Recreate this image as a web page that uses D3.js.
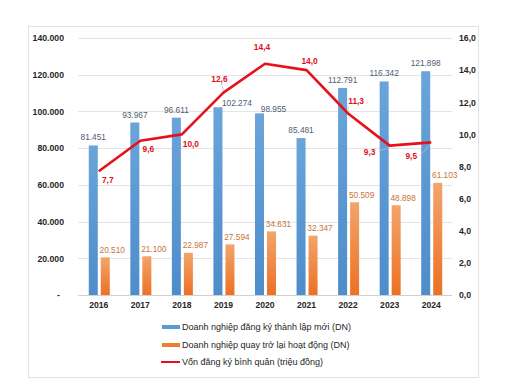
<!DOCTYPE html>
<html><head><meta charset="utf-8">
<script src="https://cdn.jsdelivr.net/npm/d3@7"></script>
<style>html,body{margin:0;padding:0;background:#fff;}svg{display:block;font-family:Arial,"Liberation Sans",sans-serif;}</style>
</head><body><svg id="c" width="506" height="392"></svg>
<script>
const years = ["2016","2017","2018","2019","2020","2021","2022","2023","2024"];
const newFirms = [81451, 93967, 96611, 102274, 98955, 85481, 112791, 116342, 121898];
const returnedFirms = [20510, 21100, 22987, 27594, 34631, 32347, 50509, 48898, 61103];
const avgCapital = [7.7, 9.6, 10.0, 12.6, 14.4, 14.0, 11.3, 9.3, 9.5];
const leftTicks = [0, 20000, 40000, 60000, 80000, 100000, 120000, 140000];
const rightTicks = [0, 2, 4, 6, 8, 10, 12, 14, 16];
const legendLabels = ["Doanh nghiệp đăng ký thành lập mới (DN)", "Doanh nghiệp quay trở lại hoạt động (DN)", "Vốn đăng ký bình quân (triệu đồng)"];

const svg = d3.select("#c");
const fmtInt = v => v === 0 ? "-" : d3.format(",")(v).replace(/,/g, ".");
const fmtDec = v => d3.format(".1f")(v).replace(".", ",");
const FONT = "Arial, 'Liberation Sans', sans-serif";

// frame
svg.append("rect").attr("x", 28.5).attr("y", 26.5).attr("width", 450).attr("height", 351)
  .attr("fill", "#fff").attr("stroke", "#e3e3e3");

const defs = svg.append("defs");
const gb = defs.append("linearGradient").attr("id", "gb").attr("x1", 0).attr("x2", 0).attr("y1", 0).attr("y2", 1);
gb.append("stop").attr("offset", "0%").attr("stop-color", "#6aa4da");
gb.append("stop").attr("offset", "100%").attr("stop-color", "#4d8dcb");
const go = defs.append("linearGradient").attr("id", "go").attr("x1", 0).attr("x2", 0).attr("y1", 0).attr("y2", 1);
go.append("stop").attr("offset", "0%").attr("stop-color", "#f3a46b");
go.append("stop").attr("offset", "100%").attr("stop-color", "#ec7124");

const x = d3.scaleBand().domain(years).range([78, 452]).padding(0);
const x1 = d3.scaleBand().domain(["n", "r"]).range([-10, 11]).paddingInner(0.25);
const yL = d3.scaleLinear().domain([0, 140000]).range([295, 38]);
const yR = d3.scaleLinear().domain([0, 16]).range([295, 38]);
const cx = d => x(d) + x.bandwidth() / 2;

// gridlines
svg.append("g").selectAll("line").data(leftTicks).join("line")
  .attr("x1", 78).attr("x2", 452)
  .attr("y1", d => Math.round(yL(d)) + 0.5).attr("y2", d => Math.round(yL(d)) + 0.5)
  .attr("stroke", d => d === 0 ? "#d0d0d0" : "#e4e4e4").attr("stroke-width", 1);

// left axis
const axL = svg.append("g").attr("transform", "translate(64,0)")
  .call(d3.axisLeft(yL).tickValues(leftTicks).tickFormat(fmtInt).tickSize(0).tickPadding(0));
axL.select(".domain").remove();
axL.selectAll("text").attr("font-size", 8.7).attr("font-weight", "bold").attr("fill", "#262626")
  .attr("font-family", FONT).attr("dx", d => d === 0 ? -4 : 0);

// right axis
const axR = svg.append("g").attr("transform", "translate(459,0)")
  .call(d3.axisRight(yR).tickValues(rightTicks).tickFormat(fmtDec).tickSize(0).tickPadding(0));
axR.select(".domain").remove();
axR.selectAll("text").attr("font-size", 8.7).attr("font-weight", "bold").attr("fill", "#262626")
  .attr("font-family", FONT);

// x axis labels
const axX = svg.append("g").attr("transform", "translate(0,302)")
  .call(d3.axisBottom(x).tickSize(0).tickPadding(0));
axX.select(".domain").remove();
axX.selectAll("text").attr("font-size", 8.6).attr("font-weight", "bold").attr("fill", "#262626")
  .attr("font-family", FONT);

// bars
const rows = years.map((y, i) => ({ y, n: newFirms[i], r: returnedFirms[i], c: avgCapital[i] }));
svg.append("g").selectAll("rect").data(rows).join("rect")
  .attr("x", d => cx(d.y) + x1("n")).attr("width", x1.bandwidth())
  .attr("y", d => yL(d.n)).attr("height", d => yL(0) - yL(d.n)).attr("fill", "url(#gb)");
svg.append("g").selectAll("rect").data(rows).join("rect")
  .attr("x", d => cx(d.y) + x1("r")).attr("width", x1.bandwidth())
  .attr("y", d => yL(d.r)).attr("height", d => yL(0) - yL(d.r)).attr("fill", "url(#go)");

// bar labels
const blueShift = { "2019": [19, 4], "2020": [14, 4] };
svg.append("g").selectAll("text").data(rows).join("text")
  .attr("x", d => cx(d.y) + x1("n") + x1.bandwidth() / 2 + (blueShift[d.y] ? blueShift[d.y][0] : 0))
  .attr("y", d => yL(d.n) - 5 + (blueShift[d.y] ? blueShift[d.y][1] : 0))
  .attr("text-anchor", "middle").attr("font-size", 8.3).attr("fill", "#4f5d73")
  .text(d => fmtInt(d.n));
svg.append("g").selectAll("text").data(rows).join("text")
  .attr("x", d => cx(d.y) + x1("r") + x1.bandwidth() / 2 + 7)
  .attr("y", d => yL(d.r) - 4.5)
  .attr("text-anchor", "middle").attr("font-size", 8.3).attr("fill", "#c8743a")
  .text(d => fmtInt(d.r));

// line
const line = d3.line().x(d => cx(d.y)).y(d => yR(d.c));
svg.append("path").datum(rows).attr("d", line).attr("fill", "none")
  .attr("stroke", "#e8101a").attr("stroke-width", 2.6).attr("stroke-linejoin", "round");

// line labels (offset of label centre from point)
const lblOff = {
  "2016": [9, 9, false], "2017": [8, 8, false], "2018": [9, 10, false],
  "2019": [-4, -14, true], "2020": [-3, -17, false], "2021": [3, -9, false],
  "2022": [8, -12, true], "2023": [-20, 6, true], "2024": [-20, 14, true]
};
const lg = svg.append("g");
rows.forEach(d => {
  const o = lblOff[d.y];
  const px = cx(d.y), py = yR(d.c);
  const tx = px + o[0], ty = py + o[1];
  if (o[2]) {
    const ex = o[0] < -10 ? tx + 9 : (o[0] > 5 ? tx - 8 : tx + 2);
    const ey = o[1] < 0 ? ty + 5 : ty - 1;
    lg.append("line").attr("x1", ex).attr("y1", ey).attr("x2", px + (o[0] < -10 ? -2 : 0)).attr("y2", py + (o[1] > 0 ? 3 : -2))
      .attr("stroke", "#bdbdbd").attr("stroke-width", 0.8);
  }
  lg.append("text").attr("x", tx).attr("y", ty + 3).attr("text-anchor", "middle")
    .attr("font-size", 8.4).attr("font-weight", "bold").attr("fill", "#e0101e")
    .text(fmtDec(d.c));
});

// legend
const legY = [327, 345, 362];
const leg = svg.append("g");
leg.append("rect").attr("x", 162).attr("y", legY[0] - 2).attr("width", 18).attr("height", 4).attr("fill", "#5b9bd5");
leg.append("rect").attr("x", 162).attr("y", legY[1] - 2).attr("width", 18).attr("height", 4).attr("fill", "#ed7d31");
leg.append("line").attr("x1", 161).attr("x2", 180).attr("y1", legY[2]).attr("y2", legY[2]).attr("stroke", "#e8101a").attr("stroke-width", 2);
leg.selectAll("text").data(legendLabels).join("text")
  .attr("x", 182).attr("y", (d, i) => legY[i] + 3.3).attr("font-size", 9).attr("fill", "#262626")
  .text(d => d);
</script></body></html>
